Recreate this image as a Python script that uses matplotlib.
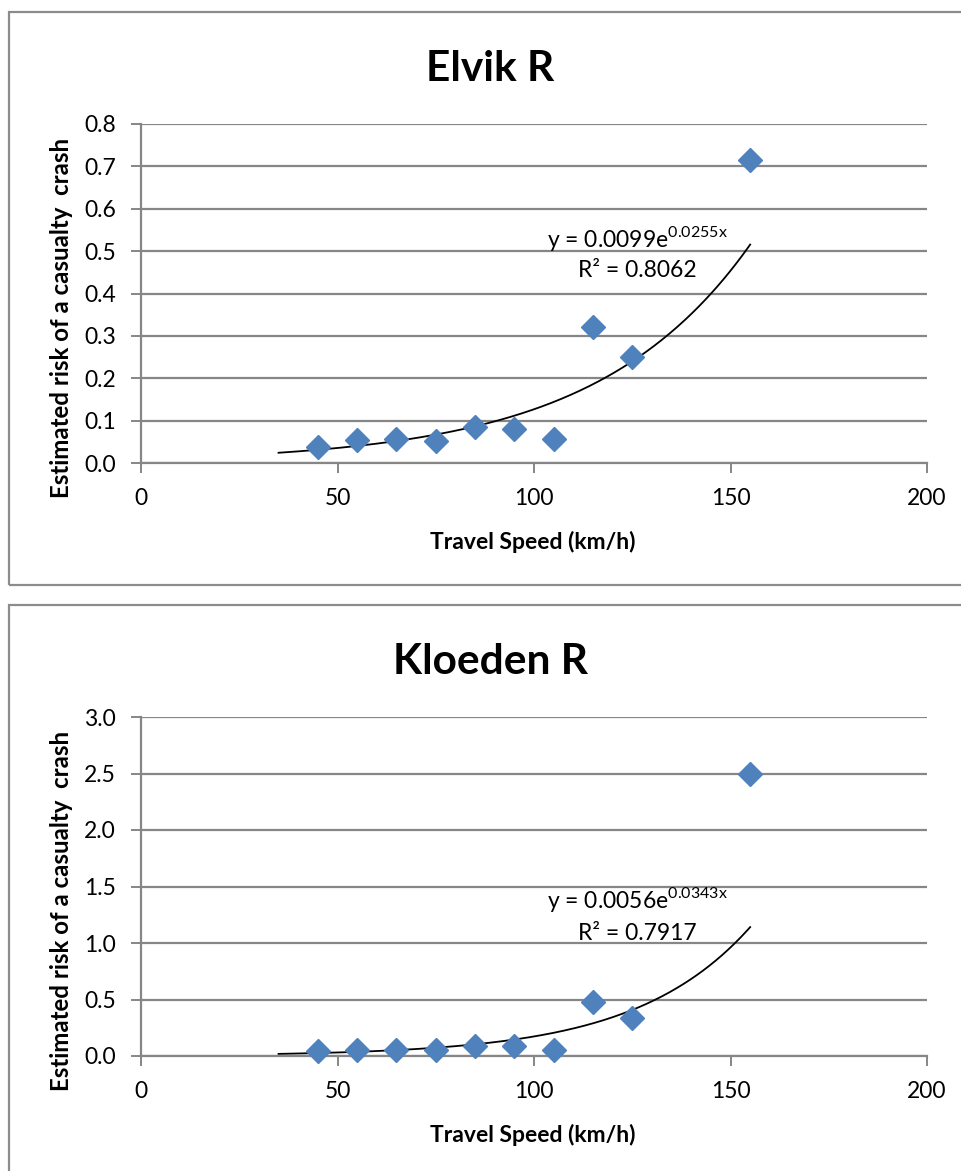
import numpy as np
import matplotlib
matplotlib.use("Agg")
import matplotlib.pyplot as plt
from matplotlib.patches import Rectangle

plt.rcParams['font.family'] = ['Lato', 'DejaVu Sans']
plt.rcParams['mathtext.fontset'] = 'custom'
plt.rcParams['mathtext.rm'] = 'Lato'

# travel speed bins (km/h) and estimated casualty crash risk
speed = [45, 55, 65, 75, 85, 95, 105, 115, 125, 155]
elvik_risk = [0.038, 0.054, 0.057, 0.052, 0.085, 0.080, 0.057, 0.320, 0.250, 0.715]
kloeden_risk = [0.044, 0.053, 0.050, 0.050, 0.090, 0.090, 0.050, 0.480, 0.340, 2.500]

# exponential trend lines y = a * exp(b x), with R^2
elvik_fit = (0.0099, 0.0255, 0.8062)
kloeden_fit = (0.0056, 0.0343, 0.7917)
fit_range = (35, 155)

W, H = 961, 1171
fig = plt.figure(figsize=(W / 100, H / 100), dpi=100)
fig.patch.set_facecolor('white')

def px(x, y):
    return x / W, 1 - y / H

grid_c = '#868686'
blue = '#4F81BD'


def panel(title, risk, fit, yticks, ylim, box_top, box_bot, ax_top, ax_bot, eq_y, r2_y):
    # chart area border
    x0, y0 = px(9, box_bot)
    x1, y1 = px(975, box_top)
    fig.patches.append(Rectangle((x0, y0), x1 - x0, y1 - y0, transform=fig.transFigure,
                                 fill=False, edgecolor='#8c8c8c', lw=1.6, zorder=0))

    l, b = px(141, ax_bot)
    r, t = px(927, ax_top)
    ax = fig.add_axes([l, b, r - l, t - b])
    ax.set_xlim(0, 200)
    ax.set_ylim(*ylim)
    ax.set_xticks([0, 50, 100, 150, 200])
    ax.set_yticks(yticks)
    ax.set_yticklabels(['%.1f' % v for v in yticks])
    ax.yaxis.grid(True, color=grid_c, lw=1.6)
    ax.set_axisbelow(True)
    for s in ['top', 'right']:
        ax.spines[s].set_visible(False)
    for s in ['left', 'bottom']:
        ax.spines[s].set_color(grid_c)
        ax.spines[s].set_linewidth(1.6)
    ax.tick_params(axis='both', direction='out', length=7, width=1.4, color=grid_c,
                   labelsize=16.5, labelcolor='black')
    ax.tick_params(axis='x', pad=11)
    ax.tick_params(axis='y', pad=11)

    a, k, r2 = fit
    xs = np.linspace(fit_range[0], fit_range[1], 300)
    ax.plot(xs, a * np.exp(k * xs), color='black', lw=1.3, zorder=2)
    ax.plot(speed, risk, linestyle='none', marker='D', markersize=12,
            color=blue, markeredgecolor=blue, zorder=3, clip_on=False)

    ex, ey = px(637, eq_y)
    fig.text(ex, ey, r'y = %.4fe$^{\mathrm{%.4fx}}$' % (a, k), ha='center', va='baseline',
             fontsize=16.5)
    rx, ry = px(637, r2_y)
    fig.text(rx, ry, 'R² = %.4f' % r2, ha='center', va='baseline', fontsize=16.5)

    tx, ty = px(490, box_top + 57)
    fig.text(tx, ty, title, ha='center', va='center', fontsize=30.5, fontweight='bold')

    lx, ly = px(533, ax_bot + 79)
    fig.text(lx, ly, 'Travel Speed (km/h)', ha='center', va='center', fontsize=16.5,
             fontweight='bold')
    vx, vy = px(62, (ax_top + ax_bot) / 2 + 24)
    fig.text(vx, vy, 'Estimated risk of a casualty  crash', ha='center', va='center',
             rotation=90, fontsize=17.3, fontweight='bold')
    return ax


panel('Elvik R', elvik_risk, elvik_fit, np.arange(0, 0.81, 0.1), (0, 0.8),
      12, 585, 124, 463, 247, 277)
panel('Kloeden R', kloeden_risk, kloeden_fit, np.arange(0, 3.01, 0.5), (0, 3.0),
      605, 1200, 717, 1056, 908, 940)

fig.savefig('out.png', dpi=100, facecolor='white')
